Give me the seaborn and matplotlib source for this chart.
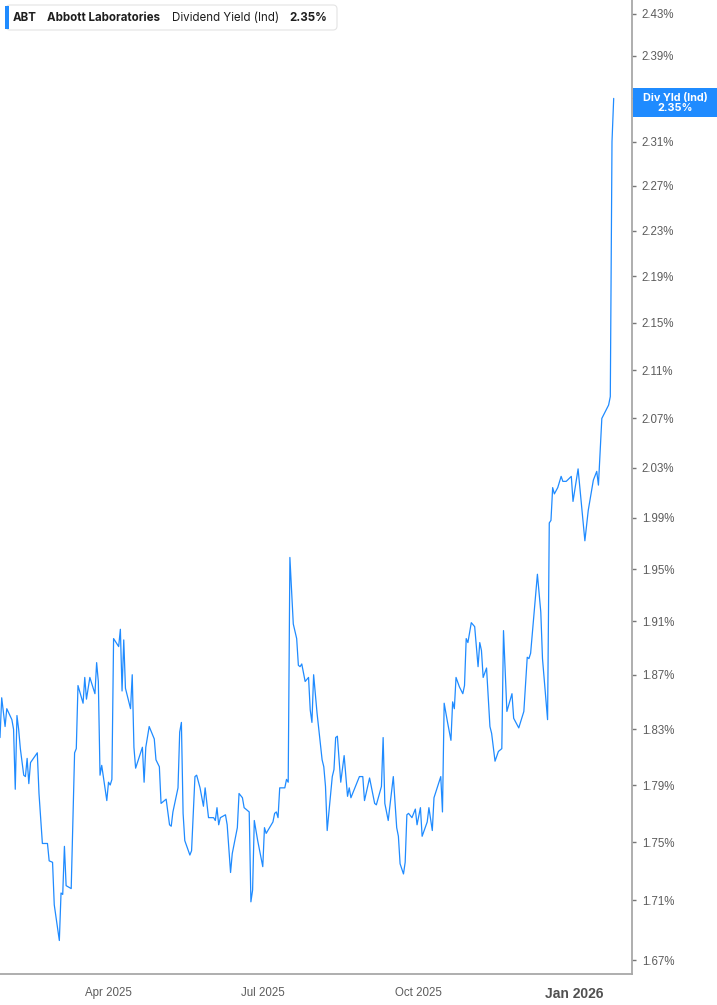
import matplotlib
matplotlib.use("Agg")
import matplotlib.pyplot as plt
from matplotlib.patches import FancyBboxPatch, Rectangle
from matplotlib.ticker import FixedLocator, FuncFormatter, NullLocator
import pandas as pd
import seaborn as sns

# header / labels
ticker = "ABT"
company = "Abbott Laboratories"
metric = "Dividend Yield (Ind)"
last_value = "2.35%"
badge_label = "Div Yld (Ind)"

# series: days since start date, dividend yield in %
start = pd.Timestamp("2025-01-27")
day_offsets = [
    0, 1, 3, 4, 7, 8, 9, 10, 11, 12,
    14, 15, 16, 17, 18, 22, 23, 25, 28, 29,
    31, 32, 35, 36, 37, 38, 39, 42, 44, 45,
    46, 49, 50, 51, 53, 56, 57, 58, 59, 60,
    63, 64, 65, 66, 67, 70, 71, 72, 73, 74,
    77, 78, 79, 80, 84, 85, 86, 88, 91, 92,
    94, 95, 98, 100, 101, 102, 105, 106, 107, 108,
    109, 112, 113, 115, 116, 118, 120, 121, 123, 126,
    127, 128, 129, 130, 133, 134, 136, 137, 140, 141,
    143, 144, 147, 148, 149, 150, 152, 155, 156, 157,
    161, 162, 163, 164, 165, 168, 169, 170, 171, 173,
    175, 176, 177, 178, 180, 182, 183, 184, 185, 187,
    190, 191, 192, 193, 196, 197, 198, 199, 201, 203,
    205, 206, 207, 212, 214, 215, 218, 221, 222, 225,
    226, 227, 229, 232, 234, 235, 236, 238, 239, 240,
    241, 243, 245, 246, 248, 249, 252, 253, 255, 256,
    260, 261, 262, 264, 266, 267, 268, 269, 271, 273,
    274, 275, 276, 278, 280, 282, 283, 284, 285, 287,
    289, 290, 292, 294, 296, 297, 299, 302, 303, 306,
    309, 311, 312, 313, 317, 319, 320, 323, 324, 325,
    326, 327, 329, 331, 332, 334, 337, 338, 341, 343,
    345, 347, 350, 352, 353, 355, 359, 360, 361, 362,
]
yield_pct = [
    1.824, 1.853, 1.832, 1.845, 1.837, 1.830, 1.787, 1.840, 1.830, 1.816,
    1.797, 1.796, 1.809, 1.791, 1.806, 1.813, 1.784, 1.749, 1.749, 1.737,
    1.736, 1.707, 1.683, 1.715, 1.714, 1.747, 1.720, 1.718, 1.813, 1.816,
    1.862, 1.849, 1.868, 1.852, 1.868, 1.856, 1.879, 1.865, 1.797, 1.804,
    1.779, 1.792, 1.790, 1.794, 1.897, 1.891, 1.904, 1.858, 1.896, 1.860,
    1.845, 1.870, 1.817, 1.802, 1.817, 1.792, 1.817, 1.832, 1.823, 1.808,
    1.803, 1.777, 1.780, 1.762, 1.761, 1.771, 1.788, 1.828, 1.835, 1.770,
    1.751, 1.741, 1.744, 1.796, 1.797, 1.788, 1.775, 1.788, 1.767, 1.767,
    1.765, 1.774, 1.762, 1.767, 1.769, 1.762, 1.729, 1.742, 1.760, 1.784,
    1.781, 1.774, 1.771, 1.709, 1.717, 1.765, 1.751, 1.733, 1.760, 1.756,
    1.764, 1.770, 1.771, 1.767, 1.788, 1.788, 1.794, 1.792, 1.959, 1.908,
    1.897, 1.877, 1.876, 1.878, 1.865, 1.868, 1.844, 1.835, 1.870, 1.842,
    1.808, 1.803, 1.789, 1.758, 1.796, 1.801, 1.824, 1.825, 1.792, 1.811,
    1.782, 1.788, 1.781, 1.796, 1.796, 1.779, 1.795, 1.777, 1.776, 1.789,
    1.824, 1.777, 1.765, 1.796, 1.760, 1.754, 1.735, 1.728, 1.736, 1.769,
    1.770, 1.767, 1.773, 1.762, 1.774, 1.754, 1.764, 1.774, 1.758, 1.781,
    1.796, 1.771, 1.849, 1.835, 1.822, 1.850, 1.845, 1.868, 1.861, 1.856,
    1.862, 1.897, 1.894, 1.909, 1.906, 1.876, 1.894, 1.888, 1.868, 1.875,
    1.832, 1.827, 1.807, 1.814, 1.816, 1.903, 1.843, 1.856, 1.838, 1.831,
    1.843, 1.883, 1.882, 1.886, 1.946, 1.917, 1.882, 1.837, 1.986, 1.988,
    2.014, 2.009, 2.014, 2.023, 2.019, 2.019, 2.023, 2.003, 2.029, 2.000,
    1.972, 1.996, 2.020, 2.027, 2.016, 2.070, 2.081, 2.088, 2.310, 2.350,
]

y_ticks = [1.67, 1.71, 1.75, 1.79, 1.83, 1.87, 1.91, 1.95, 1.99, 2.03,
           2.07, 2.11, 2.15, 2.19, 2.23, 2.27, 2.31, 2.35, 2.39, 2.43]
x_ticks = ["2025-04-01", "2025-07-01", "2025-10-01", "2026-01-01"]
x_tick_labels = ["Apr 2025", "Jul 2025", "Oct 2025", "Jan 2026"]

df = pd.DataFrame({
    "date": start + pd.to_timedelta(day_offsets, unit="D"),
    "yield": yield_pct,
})

BLUE = "#1f8bff"

sns.set_style("white")
plt.rcParams["font.family"] = ["Inter", "DejaVu Sans"]

fig = plt.figure(figsize=(7.17, 10.05), dpi=100)
ax = fig.add_axes([0, 31 / 1005, 632 / 717, 974 / 1005])

sns.lineplot(data=df, x="date", y="yield", ax=ax, color=BLUE, linewidth=0.9)

ax.set_yscale("log")
ax.set_ylim(1.6608, 2.4435)
ax.set_xlim(start, start + pd.Timedelta(days=372.8))
ax.set_xlabel(None)
ax.set_ylabel(None)

# hide the 2.35 tick label, the badge sits there
ax.yaxis.set_major_locator(FixedLocator(y_ticks))
ax.yaxis.set_minor_locator(NullLocator())
ax.yaxis.set_major_formatter(FuncFormatter(lambda v, p: "" if abs(v - 2.35) < 1e-6 else f"{v:.2f}%"))
ax.yaxis.tick_right()

ax.set_xticks(pd.to_datetime(x_ticks))
ax.set_xticklabels(x_tick_labels)
ax.xaxis.set_minor_locator(NullLocator())

for side in ["left", "top"]:
    ax.spines[side].set_visible(False)
for side in ["right", "bottom"]:
    ax.spines[side].set_color("#a8a8a8")
    ax.spines[side].set_linewidth(1.3)

ax.tick_params(axis="y", which="major", right=True, left=False, length=3, width=1,
               color="#777777", labelcolor="#5c5c5c", labelsize=8.3, pad=4)
ax.tick_params(axis="x", which="major", length=5, width=1, color="#a8a8a8",
               labelcolor="#5c5c5c", labelsize=8.3, pad=4)
for lab in ax.get_yticklabels() + ax.get_xticklabels():
    lab.set_fontfamily(["Liberation Sans", "DejaVu Sans"])
last = ax.get_xticklabels()[-1]
last.set_fontweight("bold")
last.set_fontsize(10)
last.set_color("#505050")

# header box, top left
inch = fig.dpi_scale_trans
fig.patches.append(FancyBboxPatch((0.06, 9.75), 3.31, 0.25, boxstyle="round,pad=0,rounding_size=0.04",
                                  facecolor="white", edgecolor="#e4e4e4", linewidth=0.8, transform=inch))
fig.patches.append(Rectangle((0.05, 9.76), 0.04, 0.23, facecolor=BLUE, edgecolor="none", transform=inch))
yc = 9.875
fig.text(0.13, yc, ticker, transform=inch, va="center", fontsize=8.3, fontweight="bold", color="#1e1e1e")
fig.text(0.47, yc, company, transform=inch, va="center", fontsize=8.3, fontweight="bold", color="#1e1e1e")
fig.text(1.72, yc, metric, transform=inch, va="center", fontsize=8.3, color="#1e1e1e")
fig.text(2.89, yc, last_value, transform=inch, va="center", fontsize=8.3, fontweight="bold", color="#1e1e1e")

# last-value badge on the axis
fig.patches.append(Rectangle((6.33, 8.88), 0.84, 0.29, facecolor=BLUE, edgecolor="none", transform=inch))
fig.text(6.75, 9.025, f"{badge_label}\n{last_value}", transform=inch, ha="center", va="center",
         fontsize=7.8, fontweight="bold", color="white", linespacing=1.0)

fig.savefig("out.png", dpi=100)
